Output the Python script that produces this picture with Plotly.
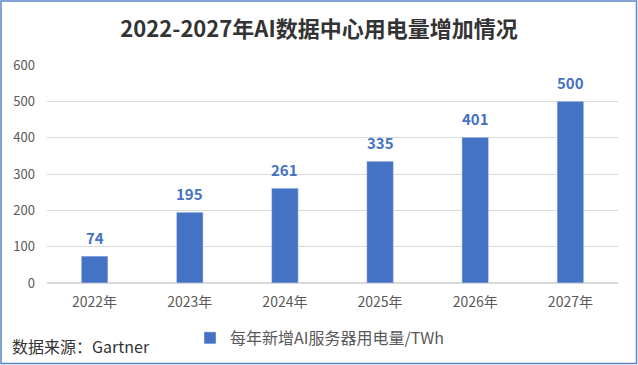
import plotly.graph_objects as go

categories = ["2022年", "2023年", "2024年", "2025年", "2026年", "2027年"]
values = [74, 195, 261, 335, 401, 500]
series_name = "每年新增AI服务器用电量/TWh"
title_text = "2022-2027年AI数据中心用电量增加情况"
source_text = "数据来源：Gartner"

W, H = 638, 365
ml, mr, mt, mb = 47, 20, 65, 82
pw, ph = W - ml - mr, H - mt - mb

def px2x(px):
    return (px - ml) / pw

def py2y(py):
    return (H - mb - py) / ph

font_family = "Noto Sans CJK SC, Noto Sans, sans-serif"
blue = "#4472C4"

fig = go.Figure()
fig.add_trace(go.Bar(
    x=categories, y=values, name=series_name,
    marker_color=blue,
))

for c, v in zip(categories, values):
    fig.add_annotation(x=c, y=v, text="<b>%d</b>" % v, showarrow=False,
                       yanchor="middle", yshift=19,
                       font=dict(color=blue, size=15, family=font_family))

fig.update_layout(
    width=W, height=H,
    margin=dict(l=ml, r=mr, t=mt, b=mb, autoexpand=False),
    paper_bgcolor="white", plot_bgcolor="white",
    font=dict(family=font_family, color="#595959", size=12),
    bargap=0.72,
    showlegend=True,
    legend=dict(orientation="h", x=px2x(190), y=py2y(321), xanchor="left", yanchor="top",
                font=dict(size=16, color="#595959"), itemwidth=30, bgcolor="rgba(0,0,0,0)"),
    title=dict(text="<b>" + title_text + "</b>", x=0.5, xref="container", xanchor="center",
               y=1 - 29 / H, yanchor="middle", yref="container",
               font=dict(size=22, color="#333333", family=font_family)),
    xaxis=dict(showgrid=False, showline=True, linecolor="#d9d9d9", ticks="",
               tickfont=dict(size=14, color="#595959"), ticklabelstandoff=6),
    yaxis=dict(range=[0, 600], dtick=100, showgrid=True, gridcolor="#d9d9d9",
               zeroline=True, zerolinecolor="#d9d9d9", ticks="",
               tickfont=dict(size=13, color="#595959"), ticklabelstandoff=11),
)

fig.add_annotation(text=source_text, xref="paper", yref="paper",
                   x=px2x(10), y=py2y(346), xanchor="left", yanchor="middle",
                   showarrow=False, font=dict(size=16, color="#333333", family=font_family))

fig.add_shape(type="rect", xref="paper", yref="paper",
              x0=px2x(1), x1=px2x(636.5), y0=py2y(1), y1=py2y(363.5),
              line=dict(color="#5B85C8", width=1.5), layer="above")

fig.write_html("out.html", config={"displayModeBar": False},
               post_script="document.body.style.margin='0';document.body.style.overflow='hidden';")
